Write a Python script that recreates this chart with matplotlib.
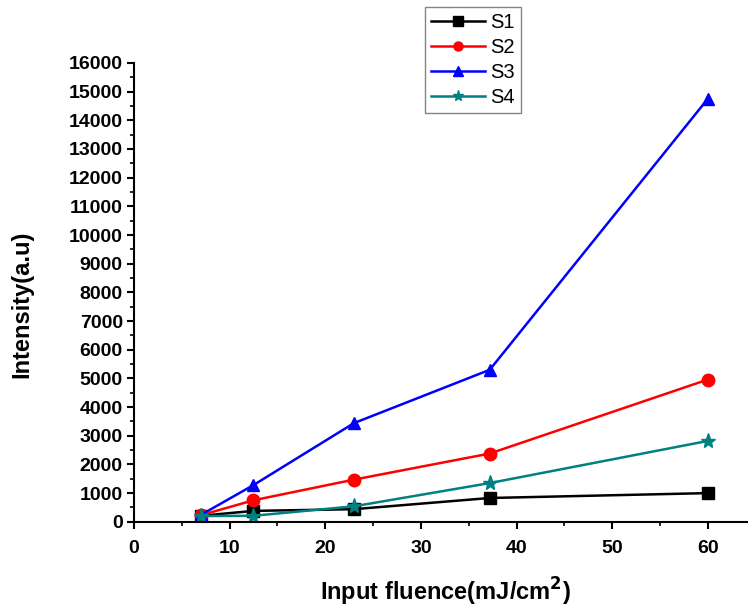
import matplotlib
matplotlib.use("Agg")
import matplotlib.pyplot as plt
from matplotlib.ticker import MultipleLocator

plt.rcParams['font.family'] = ['Liberation Sans', 'DejaVu Sans']
plt.rcParams['font.weight'] = 'bold'

fluence = [7, 12.5, 23, 37.2, 60]
s1 = [210, 380, 440, 830, 1000]
s2 = [230, 750, 1470, 2380, 4960]
s3 = [240, 1280, 3440, 5300, 14750]
s4 = [200, 210, 540, 1350, 2820]

series = [
    ("S1", s1, "black", "s"),
    ("S2", s2, "red", "o"),
    ("S3", s3, "blue", "^"),
    ("S4", s4, "#008080", "*"),
]

fig = plt.figure(figsize=(7.48, 6.11), dpi=100)
ax = fig.add_axes([0.179, 0.146, 0.821, 0.751])

handles = []
for name, vals, col, mk in series:
    ms = 11 if mk == "*" else 9
    h, = ax.plot(fluence, vals, color=col, marker=mk, markersize=ms, linewidth=1.8, label=name)
    handles.append(h)

ax.set_xlim(0, 64.2)
ax.set_ylim(0, 16000)
ax.xaxis.set_major_locator(MultipleLocator(10))
ax.xaxis.set_minor_locator(MultipleLocator(5))
ax.yaxis.set_major_locator(MultipleLocator(1000))
ax.yaxis.set_minor_locator(MultipleLocator(500))

ax.spines['top'].set_visible(False)
ax.spines['right'].set_visible(False)
ax.spines['left'].set_linewidth(1.5)
ax.spines['bottom'].set_linewidth(1.5)
ax.tick_params(which='major', direction='out', length=5, width=1.5, labelsize=14, pad=3)
ax.tick_params(axis='x', which='major', pad=8)
ax.tick_params(which='minor', direction='out', length=3, width=1.2)
for lab in ax.get_xticklabels() + ax.get_yticklabels():
    lab.set_fontweight('bold')

ax.set_xlabel("Input fluence(mJ/cm$^{\\mathbf{2}}$)", fontsize=17, fontweight='bold', va='center')
ax.xaxis.set_label_coords(0.507, -0.152)
ax.set_ylabel("Intensity(a.u)", fontsize=17, fontweight='bold', va='center')
ax.yaxis.set_label_coords(-0.182, 0.475)

leg = fig.legend(handles=handles, loc='upper left', bbox_to_anchor=(0.568, 0.9885),
                 fontsize=14.5, frameon=True, fancybox=False, handlelength=2.7,
                 borderpad=0.3, labelspacing=0.3, handletextpad=0.25, borderaxespad=0)
leg.get_frame().set_edgecolor('#666666')
leg.get_frame().set_linewidth(1.0)
for t in leg.get_texts():
    t.set_fontweight('normal')
for lh in leg.legend_handles:
    lh.set_markersize(8 if lh.get_marker() == "*" else 6.5)

fig.savefig("out.png", dpi=100)
